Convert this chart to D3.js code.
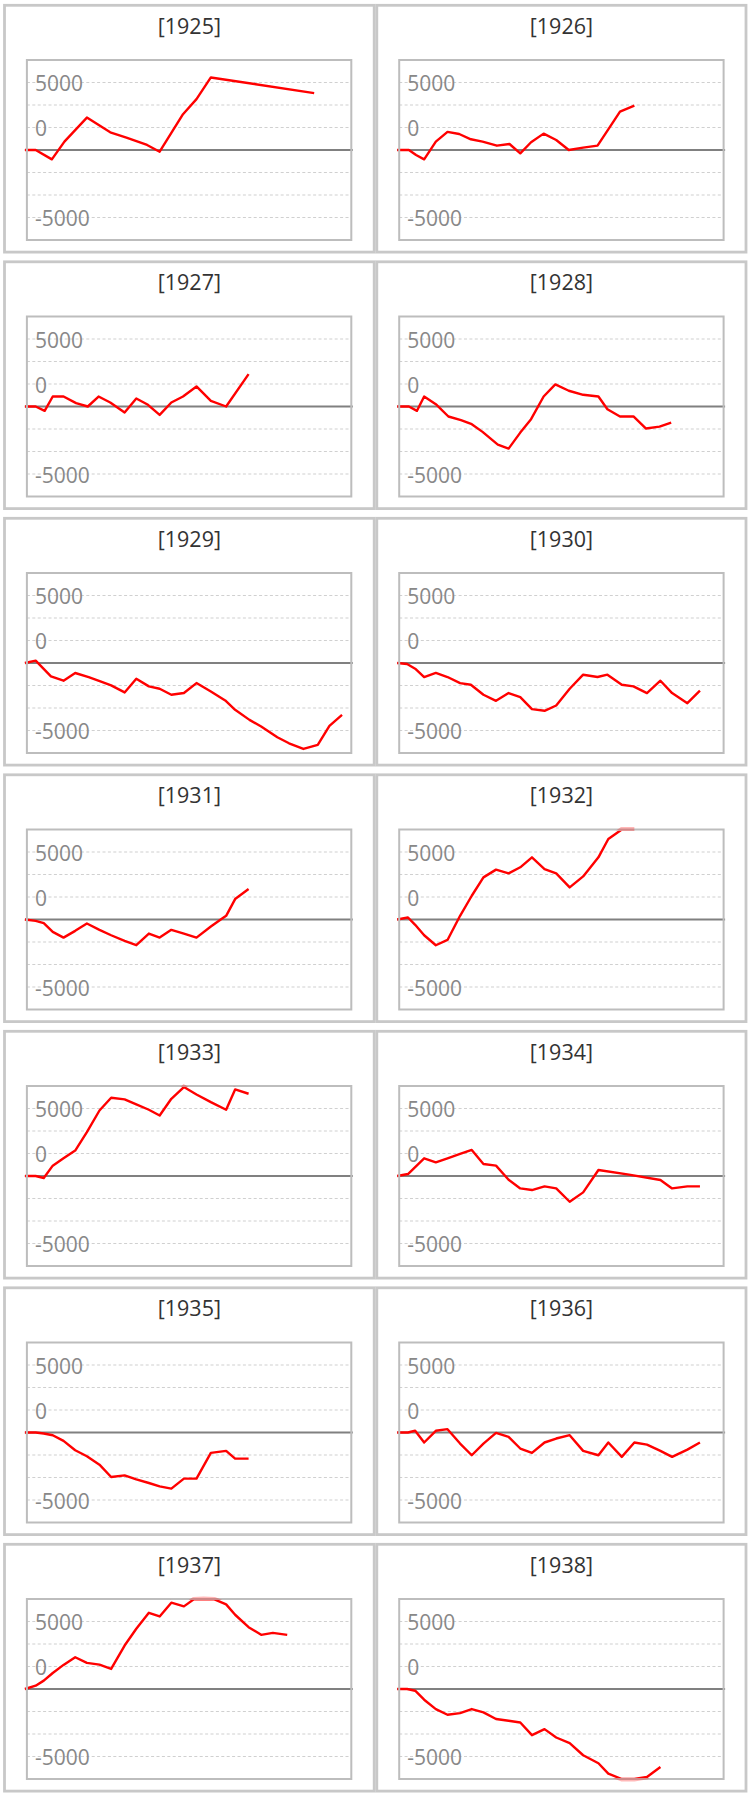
<!DOCTYPE html>
<html><head><meta charset="utf-8">
<script src="https://cdn.jsdelivr.net/npm/d3@7"></script>
<style>html,body{margin:0;padding:0;background:#fff;} svg{display:block;}</style>
</head><body><svg id="c" width="751" height="1795"></svg>
<script>
// ---- data (x = day of year, y = cumulative value) ----
const years = [1925,1926,1927,1928,1929,1930,1931,1932,1933,1934,1935,1936,1937,1938];

const days1925 = [0,12,30,44,69,95,113,136,150,176,191,207,322];
const vals1925 = [0,0,-1040,930,3600,1970,1380,560,-190,3980,5650,8060,6320];

const days1926 = [0,13,21,30,43,56,69,82,95,111,125,137,149,163,177,191,207,223,237,248,264];
const vals1926 = [0,0,-560,-1040,930,2010,1780,1190,930,480,670,-370,860,1820,1110,0,260,480,2600,4270,4940];

const days1927 = [0,12,22,31,43,57,70,82,95,111,124,137,150,163,176,191,207,224,249];
const vals1927 = [0,0,-480,1110,1110,370,0,1110,450,-670,890,190,-930,450,1110,2230,630,0,3600];

const days1928 = [0,13,22,30,43,57,71,83,95,112,124,137,149,163,176,191,207,224,234,248,263,277,292,305];
const vals1928 = [0,0,-480,1110,260,-1110,-1520,-1970,-2820,-4240,-4680,-2900,-1410,1110,2450,1750,1300,1110,-300,-1110,-1110,-2450,-2230,-1780];

const days1929 = [0,12,29,43,56,71,84,96,111,124,138,150,163,177,191,207,223,234,250,263,281,294,310,326,339,353];
const vals1929 = [0,260,-1490,-1970,-1110,-1560,-2040,-2490,-3270,-1750,-2600,-2860,-3530,-3340,-2230,-3160,-4160,-5200,-6320,-7060,-8250,-8920,-9550,-9100,-6980,-5760];

const days1930 = [0,11,20,30,43,56,70,82,96,110,124,137,150,164,177,192,207,223,234,250,263,278,293,306,323,337];
const vals1930 = [0,-110,-630,-1560,-1110,-1560,-2230,-2420,-3530,-4200,-3340,-3790,-5130,-5310,-4720,-2860,-1300,-1560,-1300,-2420,-2600,-3340,-1970,-3340,-4460,-3080];

const days1931 = [0,12,21,31,43,56,69,83,96,111,124,138,150,163,177,191,207,218,224,234,249];
const vals1931 = [0,-150,-410,-1380,-2010,-1260,-450,-1150,-1750,-2380,-2860,-1560,-2010,-1150,-1560,-2010,-780,0,410,2270,3380];

const days1932 = [0,12,20,30,43,56,70,83,96,110,124,137,150,164,177,192,207,224,235,250,264];
const vals1932 = [0,220,-590,-1750,-2860,-2270,410,2640,4680,5540,5130,5800,6910,5610,5130,3570,4790,6910,8950,10070,11500];

const days1933 = [0,12,21,31,43,56,69,83,96,111,124,138,150,163,177,191,207,224,234,249];
const vals1933 = [0,0,-220,1150,1970,2820,4870,7280,8690,8510,7950,7360,6720,8580,9880,9060,8210,7360,9620,9140];

const days1934 = [0,12,30,43,56,70,83,96,110,124,137,150,164,177,192,207,224,258,293,306,323,337];
const vals1934 = [0,220,1970,1520,1970,2450,2900,1340,1150,-410,-1380,-1560,-1150,-1380,-2860,-1820,670,150,-450,-1380,-1150,-1150];

const days1935 = [0,12,21,31,43,56,69,83,96,111,124,138,150,163,177,191,207,224,234,249];
const vals1935 = [0,0,-110,-300,-930,-1970,-2640,-3570,-4940,-4760,-5200,-5610,-5980,-6240,-5130,-5130,-2270,-2040,-2900,-2900];

const days1936 = [0,12,20,30,43,56,70,83,96,110,124,137,150,164,177,192,207,224,235,250,264,278,293,306,323,337];
const vals1936 = [0,0,190,-1110,190,370,-1230,-2530,-1230,-40,-480,-1780,-2270,-1110,-670,-300,-2040,-2530,-1110,-2710,-1110,-1340,-2040,-2710,-1900,-1110];

const days1937 = [0,12,21,31,43,56,69,83,96,111,124,138,150,163,177,188,199,211,224,234,249,263,276,292];
const vals1937 = [0,370,930,1780,2680,3530,2900,2710,2230,4830,6690,8470,8060,9590,9180,9960,10330,9960,9400,8250,6870,6020,6240,6020];

const days1938 = [0,11,20,30,43,56,70,83,96,110,124,137,150,164,177,192,207,224,235,250,264,278,293];
const vals1938 = [0,0,-190,-1190,-2230,-2860,-2680,-2230,-2600,-3340,-3530,-3720,-5130,-4460,-5390,-6020,-7360,-8250,-9400,-10110,-10030,-9770,-8660];

const tickLabels  = ["5000", "0", "-5000"];
const tickAnchors = [7500, 2500, -7500];      // where the chart prints its labels
const gridValues  = [7500, 5000, 2500, -2500, -5000, -7500];
const yDomain = [-10000, 10000];
const xDomain = [0, 365];

const daysByYear = {1925:days1925,1926:days1926,1927:days1927,1928:days1928,1929:days1929,1930:days1930,1931:days1931,
  1932:days1932,1933:days1933,1934:days1934,1935:days1935,1936:days1936,1937:days1937,1938:days1938};
const valsByYear = {1925:vals1925,1926:vals1926,1927:vals1927,1928:vals1928,1929:vals1929,1930:vals1930,1931:vals1931,
  1932:vals1932,1933:vals1933,1934:vals1934,1935:vals1935,1936:vals1936,1937:vals1937,1938:vals1938};

// ---- drawing ----
const svg = d3.select("#c");
const rowPitch = 256.5;
const font = "'Open Sans', 'Noto Sans', sans-serif";

years.forEach((yr, i) => {
  const col = i % 2, row = Math.floor(i / 2);
  const pl = col === 0 ? 4.5 : 376.8;
  const pr = col === 0 ? 374.2 : 746;
  const oy = row * rowPitch;
  const g = svg.append("g");

  g.append("rect").attr("x", pl).attr("y", oy + 5.3).attr("width", pr - pl).attr("height", 246.8)
    .attr("fill", "#fff").attr("stroke", "#c8c8c8").attr("stroke-width", 2.8);

  g.append("text").attr("x", (pl + pr) / 2).attr("y", oy + 33.5).attr("text-anchor", "middle")
    .attr("font-family", font).attr("font-size", 21.5).attr("fill", "#333").text("[" + yr + "]");

  const bl = pl + 22.4, br = pl + 346.8, bt = oy + 60, bb = oy + 240;
  const x = d3.scaleLinear().domain(xDomain).range([bl - 2, br + 1.5]);
  const y = d3.scaleLinear().domain(yDomain).range([bb, bt]).clamp(true);

  g.selectAll("line.grid").data(gridValues).enter().append("line")
    .attr("x1", bl).attr("x2", br).attr("y1", d => y(d)).attr("y2", d => y(d))
    .attr("stroke", "#d0d0d0").attr("stroke-width", 1.2).attr("stroke-dasharray", "3,2.4");

  g.append("line").attr("x1", bl - 2).attr("x2", br + 1.5).attr("y1", y(0)).attr("y2", y(0))
    .attr("stroke", "#808080").attr("stroke-width", 2);

  g.selectAll("text.tick").data(tickLabels).enter().append("text")
    .attr("x", bl + 8).attr("y", (d, k) => y(tickAnchors[k]) + 0.5)
    .attr("dominant-baseline", "central")
    .attr("font-family", font).attr("font-size", 21).attr("fill", "#888").text(d => d);

  const pts = daysByYear[yr].map((d, k) => [d, valsByYear[yr][k]]);
  const lineGen = d3.line().x(d => x(d[0])).y(d => y(d[1]));

  const cid = "clip" + yr;
  g.append("clipPath").attr("id", cid).append("rect")
    .attr("x", bl - 4).attr("y", bt + 1).attr("width", br - bl + 8).attr("height", bb - bt - 2);
  g.append("path").datum(pts).attr("d", lineGen).attr("clip-path", "url(#" + cid + ")")
    .attr("fill", "none").attr("stroke", "#ff0000").attr("stroke-width", 2.4).attr("stroke-linejoin", "round");

  g.append("rect").attr("x", bl).attr("y", bt).attr("width", br - bl).attr("height", bb - bt)
    .attr("fill", "none").attr("stroke", "#bdbdbd").attr("stroke-width", 2);

  // faint trace where the series runs past the plot edge
  const gid = "edge" + yr;
  const ec = g.append("clipPath").attr("id", gid);
  ec.append("rect").attr("x", bl).attr("y", bt - 3).attr("width", br - bl).attr("height", 4);
  ec.append("rect").attr("x", bl).attr("y", bb - 1).attr("width", br - bl).attr("height", 4);
  g.append("path").datum(pts).attr("d", lineGen).attr("clip-path", "url(#" + gid + ")")
    .attr("fill", "none").attr("stroke", "#ff0000").attr("stroke-opacity", 0.28).attr("stroke-width", 5);
});
</script></body></html>
